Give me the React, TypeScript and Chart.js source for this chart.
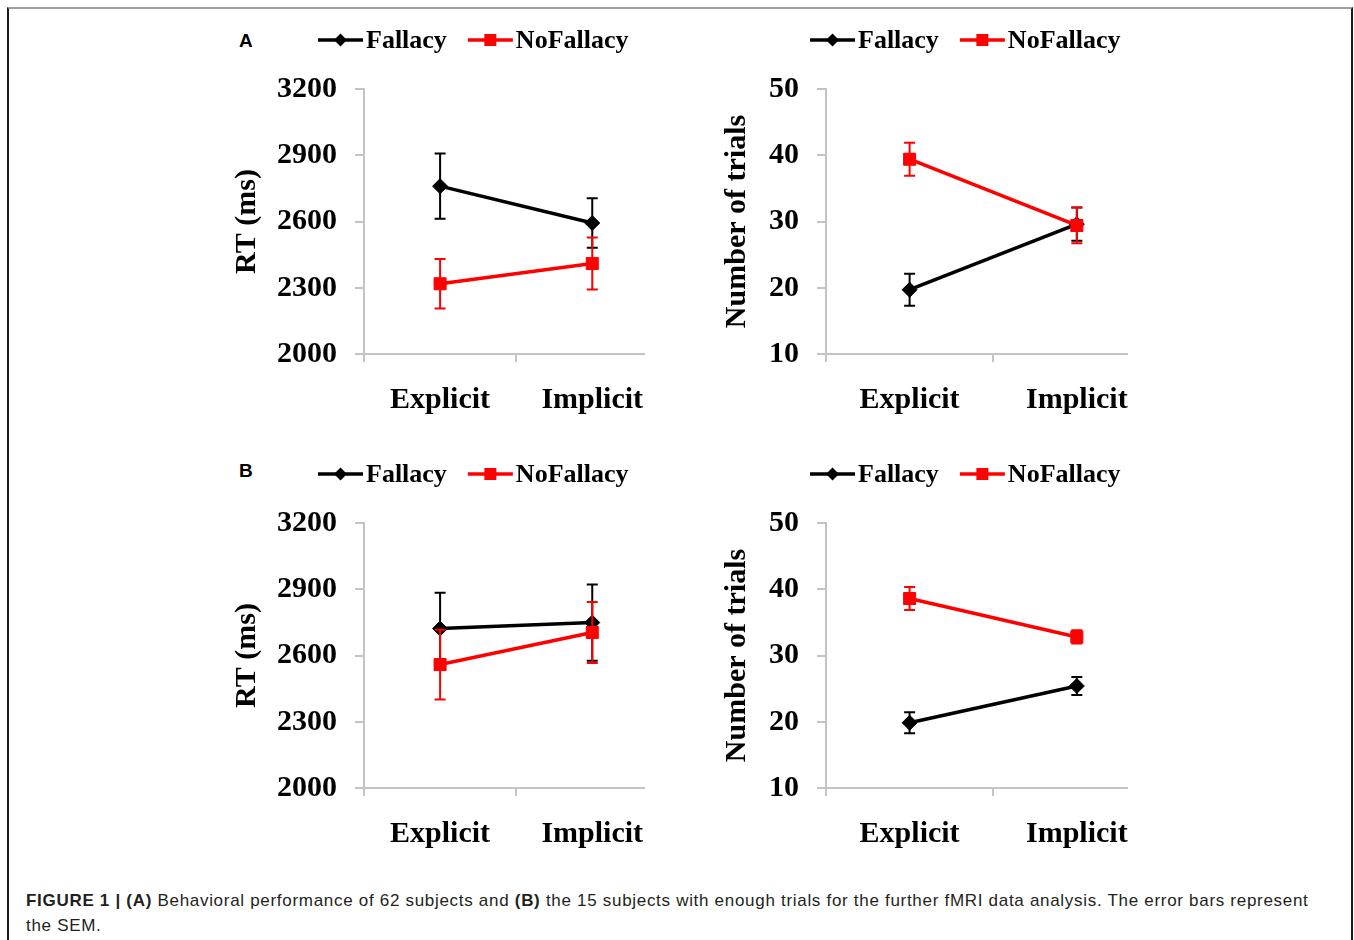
import React, { useEffect, useRef } from 'react';
import { Chart, registerables } from 'chart.js';

Chart.register(...registerables);

// ---------- data ----------
const conditions = ['Explicit', 'Implicit'];
const seriesNames = ['Fallacy', 'NoFallacy'];

const rtTicks = [2000, 2300, 2600, 2900, 3200];
const trialTicks = [10, 20, 30, 40, 50];

// Panel A (62 subjects)
const rtA_fallacy = [2760, 2593];
const rtA_fallacyErr = [148, 112];
const rtA_noFallacy = [2318, 2410];
const rtA_noFallacyErr = [112, 118];
const trialsA_fallacy = [19.7, 29.6];
const trialsA_fallacyErr = [2.4, 2.5];
const trialsA_noFallacy = [39.4, 29.4];
const trialsA_noFallacyErr = [2.5, 2.7];

// Panel B (15 subjects)
const rtB_fallacy = [2722, 2749];
const rtB_fallacyErr = [162, 173];
const rtB_noFallacy = [2559, 2704];
const rtB_noFallacyErr = [158, 138];
const trialsB_fallacy = [19.85, 25.4];
const trialsB_fallacyErr = [1.6, 1.35];
const trialsB_noFallacy = [38.6, 32.8];
const trialsB_noFallacyErr = [1.75, 1.0];

// ---------- styles ----------
const SERIF = "'Liberation Serif', 'Times New Roman', serif";
const SANS = "'Liberation Sans', Arial, sans-serif";
const AXIS = '#c4c4c4';
const BLACK = '#000000';
const RED = '#ff0000';

const errorBarPlugin = {
  id: 'errorBars',
  afterDatasetDraw(chart: any, args: any) {
    const ds = chart.data.datasets[args.index];
    const errs = ds.errors;
    if (!errs) return;
    const xs = chart.scales.x;
    const ys = chart.scales.y;
    const ctx = chart.ctx;
    ctx.save();
    ctx.strokeStyle = ds.borderColor;
    ctx.lineWidth = 2;
    ds.data.forEach((p: any, i: number) => {
      const px = xs.getPixelForValue(p.x);
      const top = ys.getPixelForValue(p.y + errs[i]);
      const bot = ys.getPixelForValue(p.y - errs[i]);
      ctx.beginPath();
      ctx.moveTo(px, top);
      ctx.lineTo(px, bot);
      ctx.moveTo(px - 5.5, top);
      ctx.lineTo(px + 5.5, top);
      ctx.moveTo(px - 5.5, bot);
      ctx.lineTo(px + 5.5, bot);
      ctx.stroke();
    });
    ctx.restore();
  },
};

const lineLegendPlugin = {
  id: 'lineLegend',
  afterDraw(chart: any, _args: any, opts: any) {
    if (!opts || opts.x0 === undefined) return;
    const ctx = chart.ctx;
    const datasets = [...chart.data.datasets].sort((a: any, b: any) => a.legendIndex - b.legendIndex);
    ctx.save();
    ctx.font = `bold 26px ${SERIF}`;
    ctx.textBaseline = 'middle';
    ctx.textAlign = 'left';
    let x = opts.x0;
    const y = opts.y;
    datasets.forEach((ds: any) => {
      ctx.strokeStyle = ds.borderColor;
      ctx.lineWidth = 3.5;
      ctx.beginPath();
      ctx.moveTo(x, y);
      ctx.lineTo(x + 45, y);
      ctx.stroke();
      ctx.fillStyle = ds.borderColor;
      const cx = x + 22.5;
      ctx.beginPath();
      if (ds.pointStyle === 'rectRot') {
        ctx.moveTo(cx, y - 6.5);
        ctx.lineTo(cx + 6.5, y);
        ctx.lineTo(cx, y + 6.5);
        ctx.lineTo(cx - 6.5, y);
        ctx.closePath();
      } else {
        ctx.rect(cx - 6, y - 6, 12, 12);
      }
      ctx.fill();
      ctx.fillStyle = '#000';
      const tx = x + 48;
      ctx.fillText(ds.label, tx, y + 1);
      x = tx + ctx.measureText(ds.label).width + 21;
    });
    ctx.restore();
  },
};

interface PanelProps {
  left: number;
  top: number;
  width: number;
  height: number;
  yScaleWidth: number;
  padRight: number;
  titlePad: number;
  legendX: number;
  xMax: number;
  yTicks: number[];
  yTitle: string;
  fallacy: number[];
  fallacyErr: number[];
  noFallacy: number[];
  noFallacyErr: number[];
}

function Panel(p: PanelProps) {
  const ref = useRef<HTMLCanvasElement | null>(null);
  useEffect(() => {
    if (!ref.current) return;
    const toPts = (arr: number[]) => arr.map((v, i) => ({ x: i, y: v }));
    const chart = new Chart(ref.current, {
      type: 'line',
      data: {
        datasets: [
          {
            label: seriesNames[0],
            data: toPts(p.fallacy),
            errors: p.fallacyErr,
            legendIndex: 0,
            borderColor: BLACK,
            backgroundColor: BLACK,
            borderWidth: 3.5,
            pointStyle: 'rectRot',
            pointRadius: 7.5,
            pointBorderWidth: 1,
            pointBorderColor: BLACK,
            pointBackgroundColor: BLACK,
            order: 1,
          } as any,
          {
            label: seriesNames[1],
            data: toPts(p.noFallacy),
            errors: p.noFallacyErr,
            legendIndex: 1,
            borderColor: RED,
            backgroundColor: RED,
            borderWidth: 3.5,
            pointStyle: 'rect',
            pointRadius: 8.5,
            pointBorderWidth: 1,
            pointBorderColor: RED,
            pointBackgroundColor: RED,
            order: 0,
          } as any,
        ],
      },
      options: {
        animation: false,
        responsive: false,
        maintainAspectRatio: false,
        layout: { padding: { top: 69, right: p.padRight, left: 0, bottom: 0 } },
        plugins: {
          legend: { display: false },
          tooltip: { enabled: false },
          lineLegend: { x0: p.legendX, y: 20 },
        } as any,
        scales: {
          x: {
            type: 'linear',
            min: -0.5,
            max: p.xMax,
            afterBuildTicks: (scale: any) => {
              scale.ticks = [-0.5, 0, 0.5, 1].map((v) => ({ value: v }));
            },
            afterFit: (scale: any) => {
              scale.height = 76;
              scale.paddingLeft = 0;
              scale.paddingRight = 0;
            },
            ticks: {
              autoSkip: false,
              maxRotation: 0,
              minRotation: 0,
              padding: 20,
              color: '#000',
              font: { family: SERIF, size: 30, weight: 'bold', lineHeight: 1.2 },
              callback: (v: any) => (Number.isInteger(v) ? conditions[v] ?? '' : ''),
            },
            grid: {
              drawOnChartArea: false,
              drawTicks: true,
              tickLength: 8,
              lineWidth: 2,
              color: (c: any) =>
                c.tick && (c.tick.value === -0.5 || c.tick.value === 0.5) ? AXIS : 'rgba(0,0,0,0)',
            },
            border: { display: true, color: AXIS, width: 2 },
          },
          y: {
            type: 'linear',
            min: p.yTicks[0],
            max: p.yTicks[p.yTicks.length - 1],
            afterBuildTicks: (scale: any) => {
              scale.ticks = p.yTicks.map((v) => ({ value: v }));
            },
            afterFit: (scale: any) => {
              scale.width = p.yScaleWidth;
              scale.paddingTop = 0;
              scale.paddingBottom = 0;
            },
            ticks: {
              padding: 18,
              color: '#000',
              font: { family: SERIF, size: 30, weight: 'bold' },
              callback: (v: any) => String(v),
            },
            grid: {
              drawOnChartArea: false,
              drawTicks: true,
              tickLength: 9,
              lineWidth: 2,
              color: AXIS,
            },
            border: { display: true, color: AXIS, width: 2 },
            title: {
              display: true,
              text: p.yTitle,
              color: '#000',
              font: { family: SERIF, size: 30, weight: 'bold', lineHeight: 1 },
              padding: { top: p.titlePad, bottom: 0 },
            },
          },
        },
      } as any,
      plugins: [errorBarPlugin, lineLegendPlugin],
    });
    return () => chart.destroy();
  }, []);
  return (
    <canvas
      ref={ref}
      width={p.width}
      height={p.height}
      style={{ position: 'absolute', left: p.left, top: p.top, width: p.width, height: p.height }}
    />
  );
}

const leftGeom = { width: 440, height: 410, yScaleWidth: 144, padRight: 16, titlePad: 12, legendX: 98, xMax: 1.34 };
const rightGeom = { width: 470, height: 410, yScaleWidth: 146, padRight: 23, titlePad: 42, legendX: 130, xMax: 1.3 };

const labelStyle = (top: number): React.CSSProperties => ({
  position: 'absolute',
  left: 239,
  top,
  fontFamily: SANS,
  fontWeight: 'bold',
  fontSize: 19,
  lineHeight: '19px',
  color: '#000',
});

export default function App() {
  return (
    <div
      style={{
        position: 'absolute',
        left: 0,
        top: 0,
        width: 1354,
        height: 940,
        overflow: 'hidden',
        background: '#fff',
      }}
    >
      <div
        style={{
          position: 'absolute',
          left: 7,
          top: 7,
          width: 1346,
          height: 1000,
          boxSizing: 'border-box',
          borderLeft: '2px solid #1a1a1a',
          borderRight: '2px solid #1a1a1a',
          borderTop: '2px solid #a0a0a0',
        }}
      />
      <div style={labelStyle(31)}>A</div>
      <div style={labelStyle(461)}>B</div>
      <Panel left={220} top={20} {...leftGeom} yTicks={rtTicks} yTitle="RT (ms)"
        fallacy={rtA_fallacy} fallacyErr={rtA_fallacyErr} noFallacy={rtA_noFallacy} noFallacyErr={rtA_noFallacyErr} />
      <Panel left={680} top={20} {...rightGeom} yTicks={trialTicks} yTitle="Number of trials"
        fallacy={trialsA_fallacy} fallacyErr={trialsA_fallacyErr} noFallacy={trialsA_noFallacy} noFallacyErr={trialsA_noFallacyErr} />
      <Panel left={220} top={454} {...leftGeom} yTicks={rtTicks} yTitle="RT (ms)"
        fallacy={rtB_fallacy} fallacyErr={rtB_fallacyErr} noFallacy={rtB_noFallacy} noFallacyErr={rtB_noFallacyErr} />
      <Panel left={680} top={454} {...rightGeom} yTicks={trialTicks} yTitle="Number of trials"
        fallacy={trialsB_fallacy} fallacyErr={trialsB_fallacyErr} noFallacy={trialsB_noFallacy} noFallacyErr={trialsB_noFallacyErr} />
      <div
        style={{
          position: 'absolute',
          left: 26,
          top: 888,
          fontFamily: SANS,
          fontSize: 17,
          letterSpacing: '0.7px',
          lineHeight: '25px',
          color: '#231f20',
          whiteSpace: 'nowrap',
        }}
      >
        <b>FIGURE 1 | (A)</b> Behavioral performance of 62 subjects and <b>(B)</b> the 15 subjects with enough trials for the further fMRI data analysis. The error bars represent
        <br />
        the SEM.
      </div>
    </div>
  );
}
